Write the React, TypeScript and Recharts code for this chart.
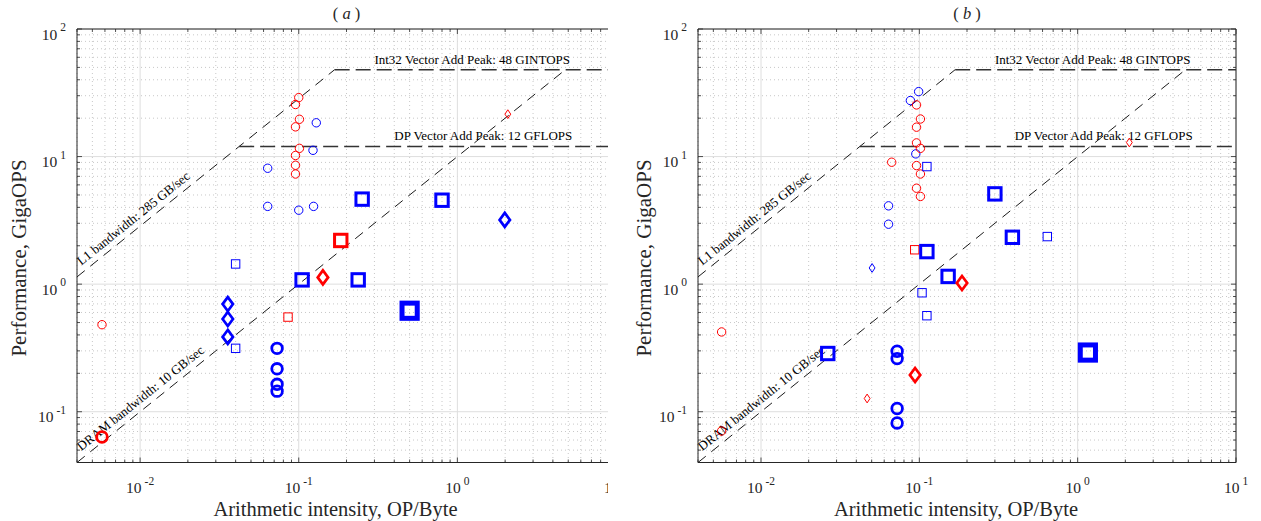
import React from 'react';
import {
  ScatterChart,
  Scatter,
  XAxis,
  YAxis,
  CartesianGrid,
  ReferenceLine,
  ReferenceDot,
} from 'recharts';

type Pt = [number, number];

// Panel (a) measurements: [arithmetic intensity OP/Byte, GigaOPS]
const aRedSmallCircles: Pt[] = [
  [0.1, 29.0], [0.0954, 25.6], [0.101, 19.6], [0.0954, 17.1], [0.101, 11.6],
  [0.0954, 10.2], [0.0954, 8.55], [0.0954, 7.3], [0.00575, 0.481],
];
const aBlueSmallCircles: Pt[] = [
  [0.129, 18.4], [0.123, 11.2], [0.0637, 8.1], [0.0637, 4.07], [0.1, 3.8], [0.124, 4.07],
];
const aRedSmallDiamonds: Pt[] = [[2.08, 21.5]];
const aBlueSquares: Pt[] = [[0.251, 4.64], [0.8, 4.55], [0.105, 1.08], [0.237, 1.08]];
const aBlueDiamonds: Pt[] = [[1.99, 3.19], [0.0357, 0.698], [0.0357, 0.533], [0.0357, 0.386]];
const aRedSquares: Pt[] = [[0.184, 2.2]];
const aBlueSmallSquares: Pt[] = [[0.04, 1.44], [0.04, 0.314]];
const aRedDiamonds: Pt[] = [[0.142, 1.13]];
const aBlueHeavySquares: Pt[] = [[0.5, 0.619]];
const aRedSmallSquares: Pt[] = [[0.0856, 0.552]];
const aBlueCircles: Pt[] = [[0.073, 0.314], [0.073, 0.217], [0.073, 0.164], [0.073, 0.145]];
const aRedCircles: Pt[] = [[0.00575, 0.0634]];

// Panel (b) measurements
const bBlueSmallCircles: Pt[] = [
  [0.099, 32.3], [0.0878, 27.5], [0.095, 10.5], [0.0639, 4.11], [0.0639, 2.95],
];
const bRedSmallCircles: Pt[] = [
  [0.096, 25.4], [0.1016, 19.7], [0.096, 17.0], [0.096, 12.8], [0.1016, 11.6],
  [0.0669, 9.03], [0.096, 8.5], [0.1016, 7.3], [0.096, 5.65], [0.1016, 4.87],
  [0.00564, 0.422], [0.00564, 0.0706],
];
const bRedSmallDiamonds: Pt[] = [[2.12, 12.9], [0.0468, 0.127]];
const bBlueSmallSquares: Pt[] = [[0.1116, 8.35], [0.643, 2.36], [0.104, 0.856], [0.1116, 0.566]];
const bBlueSquares: Pt[] = [[0.3, 5.1], [0.387, 2.33], [0.1116, 1.8], [0.152, 1.15], [0.0264, 0.286]];
const bRedSmallSquares: Pt[] = [[0.0935, 1.86]];
const bBlueSmallDiamonds: Pt[] = [[0.0503, 1.34]];
const bRedDiamonds: Pt[] = [[0.186, 1.02], [0.094, 0.194]];
const bBlueCircles: Pt[] = [[0.0724, 0.298], [0.0724, 0.261], [0.0724, 0.106], [0.0724, 0.0817]];
const bBlueHeavySquares: Pt[] = [[1.16, 0.291]];

// roofline parameters
const L1_BW = 285; // GB/sec
const DRAM_BW = 10; // GB/sec
const INT_PEAK = 48; // GINTOPS
const DP_PEAK = 12; // GFLOPS

const X_DOMAIN: [number, number] = [0.004, 10];
const Y_DOMAIN: [number, number] = [0.04, 100];
const X_DECADES = [0.01, 0.1, 1, 10];
const Y_DECADES = [0.1, 1, 10, 100];
const MINOR_STEPS = [2, 3, 4, 5, 6, 7, 8, 9];

const RED = '#ff0000';
const BLUE = '#0000ff';
const AXIS_COLOR = '#262626';
const FONT = '"Liberation Serif", "Times New Roman", serif';

const CHART_H = 521;
const PLOT_TOP = 29;
const X_AXIS_H = 58.5;
const PLOT_H = CHART_H - PLOT_TOP - X_AXIS_H;
const Y_AXIS_W = 77;

const inRange = (v: number, d: [number, number]) => v >= d[0] * 0.9999 && v <= d[1] * 1.0001;
const minorOf = (decades: number[], d: [number, number]) =>
  [decades[0] / 10, ...decades]
    .flatMap((dec) => MINOR_STEPS.map((s) => s * dec))
    .filter((v) => inRange(v, d));

const xMinor = minorOf(X_DECADES, X_DOMAIN);
const yMinor = minorOf(Y_DECADES, Y_DOMAIN);
const xTicks = [...X_DECADES, ...xMinor].sort((a, b) => a - b);
const yTicks = [...Y_DECADES, ...yMinor].sort((a, b) => a - b);

const isDecade = (v: number) => {
  const l = Math.log10(v);
  return Math.abs(l - Math.round(l)) < 1e-6;
};

type MarkerKind = 'smallCircle' | 'circle' | 'smallSquare' | 'square' | 'heavySquare' | 'smallDiamond' | 'diamond';

function Marker({ cx, cy, kind, color }: { cx: number; cy: number; kind: MarkerKind; color: string }) {
  if (cx == null || cy == null) return null;
  const common = { fill: 'none', stroke: color };
  switch (kind) {
    case 'smallCircle':
      return <circle cx={cx} cy={cy} r={4.2} strokeWidth={1} {...common} />;
    case 'circle':
      return <circle cx={cx} cy={cy} r={5.3} strokeWidth={2.8} {...common} />;
    case 'smallSquare':
      return <rect x={cx - 4.2} y={cy - 4.2} width={8.4} height={8.4} strokeWidth={1} {...common} />;
    case 'square':
      return <rect x={cx - 6.2} y={cy - 6.2} width={12.4} height={12.4} strokeWidth={3} {...common} />;
    case 'heavySquare':
      return <rect x={cx - 7.6} y={cy - 7.6} width={15.2} height={15.2} strokeWidth={5} {...common} />;
    case 'smallDiamond':
      return (
        <polygon
          points={`${cx},${cy - 4.4} ${cx + 2.9},${cy} ${cx},${cy + 4.4} ${cx - 2.9},${cy}`}
          strokeWidth={1}
          {...common}
        />
      );
    case 'diamond':
    default:
      return (
        <polygon
          points={`${cx},${cy - 7} ${cx + 5.2},${cy} ${cx},${cy + 7} ${cx - 5.2},${cy}`}
          strokeWidth={2.7}
          {...common}
        />
      );
  }
}

interface SeriesDef {
  data: Pt[];
  color: string;
  marker: MarkerKind;
}

const PANEL_A: SeriesDef[] = [
  { data: aRedSmallCircles, color: RED, marker: 'smallCircle' },
  { data: aBlueSmallCircles, color: BLUE, marker: 'smallCircle' },
  { data: aRedSmallDiamonds, color: RED, marker: 'smallDiamond' },
  { data: aBlueSmallSquares, color: BLUE, marker: 'smallSquare' },
  { data: aRedSmallSquares, color: RED, marker: 'smallSquare' },
  { data: aBlueSquares, color: BLUE, marker: 'square' },
  { data: aRedSquares, color: RED, marker: 'square' },
  { data: aBlueDiamonds, color: BLUE, marker: 'diamond' },
  { data: aRedDiamonds, color: RED, marker: 'diamond' },
  { data: aBlueHeavySquares, color: BLUE, marker: 'heavySquare' },
  { data: aBlueCircles, color: BLUE, marker: 'circle' },
  { data: aRedCircles, color: RED, marker: 'circle' },
];

const PANEL_B: SeriesDef[] = [
  { data: bBlueSmallCircles, color: BLUE, marker: 'smallCircle' },
  { data: bRedSmallCircles, color: RED, marker: 'smallCircle' },
  { data: bRedSmallDiamonds, color: RED, marker: 'smallDiamond' },
  { data: bBlueSmallDiamonds, color: BLUE, marker: 'smallDiamond' },
  { data: bBlueSmallSquares, color: BLUE, marker: 'smallSquare' },
  { data: bRedSmallSquares, color: RED, marker: 'smallSquare' },
  { data: bBlueSquares, color: BLUE, marker: 'square' },
  { data: bRedDiamonds, color: RED, marker: 'diamond' },
  { data: bBlueCircles, color: BLUE, marker: 'circle' },
  { data: bBlueHeavySquares, color: BLUE, marker: 'heavySquare' },
];

function XTick(props: any) {
  const { x, y, payload, plotH } = props;
  const v = payload.value as number;
  const major = isDecade(v);
  const len = major ? 5 : 3;
  return (
    <g>
      <line x1={x} x2={x} y1={y} y2={y - len} stroke={AXIS_COLOR} strokeWidth={0.8} />
      <line x1={x} x2={x} y1={y - plotH} y2={y - plotH + len} stroke={AXIS_COLOR} strokeWidth={0.8} />
      {major && (
        <text x={x} y={y + 30} textAnchor="middle" fontFamily={FONT} fontSize={15.5} fill={AXIS_COLOR}>
          10
          <tspan dx={3} dy={-8} fontSize={11.5}>
            {Math.round(Math.log10(v))}
          </tspan>
        </text>
      )}
    </g>
  );
}

function YTick(props: any) {
  const { x, y, payload, plotW } = props;
  const v = payload.value as number;
  const major = isDecade(v);
  const len = major ? 5 : 3;
  return (
    <g>
      <line x1={x} x2={x + len} y1={y} y2={y} stroke={AXIS_COLOR} strokeWidth={0.8} />
      <line x1={x + plotW} x2={x + plotW - len} y1={y} y2={y} stroke={AXIS_COLOR} strokeWidth={0.8} />
      {major && (
        <text x={x - 11} y={y + 10.5} textAnchor="end" fontFamily={FONT} fontSize={15.5} fill={AXIS_COLOR}>
          10
          <tspan dx={3} dy={-8.5} fontSize={11.5}>
            {Math.round(Math.log10(v))}
          </tspan>
        </text>
      )}
    </g>
  );
}

function Panel({
  series,
  left,
  clipWidth,
  marginRight,
}: {
  series: SeriesDef[];
  left: number;
  clipWidth: number;
  marginRight: number;
}) {
  const chartW = 640;
  const plotW = chartW - marginRight - Y_AXIS_W;
  const xDec = Math.log10(X_DOMAIN[1] / X_DOMAIN[0]);
  const yDec = Math.log10(Y_DOMAIN[1] / Y_DOMAIN[0]);
  const slopeAngle = (Math.atan(PLOT_H / yDec / (plotW / xDec)) * 180) / Math.PI;
  const x0 = X_DOMAIN[0];
  const xMax = X_DOMAIN[1];
  const labelX = 0.0045;

  const slantLabel = (text: string) => (p: any) => (
    <text
      transform={`translate(${p.cx},${p.cy}) rotate(${-slopeAngle})`}
      x={0}
      y={-6}
      fontFamily={FONT}
      fontSize={13}
      fill="#000"
    >
      {text}
    </text>
  );
  const flatLabel = (text: string) => (p: any) => (
    <text x={p.cx} y={p.cy - 6} fontFamily={FONT} fontSize={13} fill="#000">
      {text}
    </text>
  );

  return (
    <div style={{ position: 'absolute', left, top: 0, width: clipWidth, height: CHART_H, overflow: 'hidden' }}>
      <ScatterChart width={chartW} height={CHART_H} margin={{ top: PLOT_TOP, right: marginRight, bottom: 0, left: 0 }}>
        <CartesianGrid verticalValues={xMinor} horizontalValues={yMinor} stroke="#c8c8c8" strokeDasharray="1 3" />
        <CartesianGrid verticalValues={X_DECADES} horizontalValues={Y_DECADES} stroke="#dedede" />
        <XAxis
          type="number"
          dataKey="x"
          scale="log"
          domain={X_DOMAIN}
          allowDataOverflow
          ticks={xTicks}
          interval={0}
          tickLine={false}
          tickSize={0}
          tickMargin={0}
          height={X_AXIS_H}
          axisLine={{ stroke: AXIS_COLOR }}
          tick={<XTick plotH={PLOT_H} />}
        />
        <YAxis
          type="number"
          dataKey="y"
          scale="log"
          domain={Y_DOMAIN}
          allowDataOverflow
          ticks={yTicks}
          interval={0}
          tickLine={false}
          tickSize={0}
          tickMargin={0}
          width={Y_AXIS_W}
          axisLine={{ stroke: AXIS_COLOR }}
          tick={<YTick plotW={plotW} />}
        />
        <ReferenceLine y={Y_DOMAIN[1]} stroke={AXIS_COLOR} />
        <ReferenceLine x={X_DOMAIN[1]} stroke={AXIS_COLOR} />

        {/* rooflines */}
        <ReferenceLine
          segment={[{ x: x0, y: x0 * L1_BW }, { x: INT_PEAK / L1_BW, y: INT_PEAK }]}
          stroke="#000"
          strokeWidth={0.9}
          strokeDasharray="10 7"
          ifOverflow="visible"
        />
        <ReferenceLine
          segment={[{ x: x0, y: x0 * DRAM_BW }, { x: INT_PEAK / DRAM_BW, y: INT_PEAK }]}
          stroke="#000"
          strokeWidth={0.9}
          strokeDasharray="10 7"
          ifOverflow="visible"
        />
        <ReferenceLine
          segment={[{ x: INT_PEAK / L1_BW, y: INT_PEAK }, { x: xMax, y: INT_PEAK }]}
          stroke="#333"
          strokeWidth={1.5}
          strokeDasharray="15 6"
          ifOverflow="visible"
        />
        <ReferenceLine
          segment={[{ x: DP_PEAK / L1_BW, y: DP_PEAK }, { x: xMax, y: DP_PEAK }]}
          stroke="#333"
          strokeWidth={1.5}
          strokeDasharray="15 6"
          ifOverflow="visible"
        />
        <ReferenceDot x={labelX} y={labelX * L1_BW} r={0} shape={slantLabel('L1 bandwidth: 285 GB/sec')} />
        <ReferenceDot x={labelX} y={labelX * DRAM_BW} r={0} shape={slantLabel('DRAM bandwidth: 10 GB/sec')} />
        <ReferenceDot x={0.3} y={INT_PEAK} r={0} shape={flatLabel('Int32 Vector Add Peak: 48 GINTOPS')} />
        <ReferenceDot x={0.4} y={DP_PEAK} r={0} shape={flatLabel('DP Vector Add Peak: 12 GFLOPS')} />

        {series.map((s, i) => (
          <Scatter
            key={i}
            data={s.data.map(([x, y]) => ({ x, y }))}
            isAnimationActive={false}
            shape={(p: any) => <Marker cx={p.cx} cy={p.cy} kind={s.marker} color={s.color} />}
          />
        ))}
      </ScatterChart>
    </div>
  );
}

export default function App() {
  const aCenter = (Y_AXIS_W + 616) / 2;
  const bCenter = (698 + 1236) / 2;
  const yMid = 258;
  return (
    <div
      style={{
        position: 'absolute',
        left: 0,
        top: 0,
        width: 1261,
        height: 521,
        background: '#fff',
        overflow: 'hidden',
        fontFamily: FONT,
      }}
    >
      <Panel series={PANEL_A} left={0} clipWidth={608} marginRight={24} />
      <Panel series={PANEL_B} left={621} clipWidth={640} marginRight={25} />
      <svg width={1261} height={521} style={{ position: 'absolute', left: 0, top: 0, pointerEvents: 'none' }}>
        <g fontFamily={FONT} fill={AXIS_COLOR}>
          <text x={aCenter} y={19} textAnchor="middle" fontSize={16.5}>
            ( <tspan fontStyle="italic">a</tspan> )
          </text>
          <text x={bCenter} y={19} textAnchor="middle" fontSize={16.5}>
            ( <tspan fontStyle="italic">b</tspan> )
          </text>
          <text x={aCenter - 11} y={516} textAnchor="middle" fontSize={20.5}>
            Arithmetic intensity, OP/Byte
          </text>
          <text x={bCenter - 11} y={516} textAnchor="middle" fontSize={20.5}>
            Arithmetic intensity, OP/Byte
          </text>
          <text transform={`translate(26,${yMid}) rotate(-90)`} textAnchor="middle" fontSize={21}>
            Performance, GigaOPS
          </text>
          <text transform={`translate(651,${yMid}) rotate(-90)`} textAnchor="middle" fontSize={21}>
            Performance, GigaOPS
          </text>
        </g>
      </svg>
    </div>
  );
}
